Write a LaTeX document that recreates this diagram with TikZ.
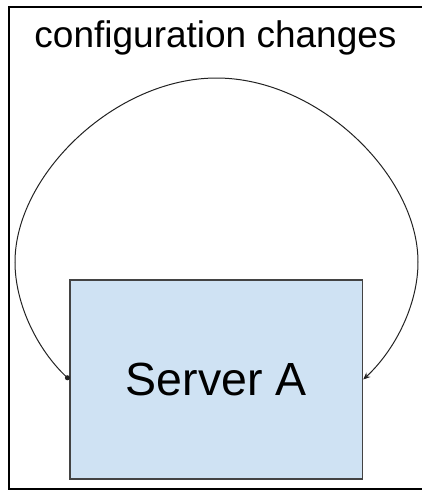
\documentclass[tikz,border=0pt]{standalone}
\usepackage{fontspec}
\setmainfont{Liberation Sans}
\usetikzlibrary{arrows.meta}
\definecolor{boxfill}{HTML}{CFE2F3}
\definecolor{boxline}{HTML}{434343}
\definecolor{curveline}{HTML}{222222}
\begin{document}
\begin{tikzpicture}[x=1pt,y=-1pt,
  frameline/.style={line width=2pt,black},
  serverbox/.style={draw=boxline,line width=1.5pt,fill=boxfill,rectangle,inner sep=0pt,
    minimum width=292.5pt,minimum height=199pt,font=\fontsize{46.5}{52}\selectfont},
  titletext/.style={anchor=base,inner sep=0pt,font=\fontsize{37}{44}\selectfont},
  loopline/.style={draw=curveline,line width=1pt,{Circle[length=5pt]}-{Stealth[length=7pt,width=6pt]}}]
\useasboundingbox (0,0) rectangle (422,491);
\draw[frameline] (422,7) -- (9,7) -- (9,489) -- (422,489);
\node[titletext] (title) at (215.5,47) {configuration changes};
\node[serverbox] (srv) at (216.25,379.5) {Server A};
\coordinate (lft) at (15,262);
\coordinate (top) at (216.5,78);
\coordinate (rgt) at (418,262);
\draw[loopline] (srv.west) .. controls (38,350) and (15,305) .. (lft)
  .. controls (15,175) and (115,78) .. (top)
  .. controls (318,78) and (418,175) .. (rgt)
  .. controls (418,305) and (395,350) .. (srv.east);
\end{tikzpicture}
\end{document}
